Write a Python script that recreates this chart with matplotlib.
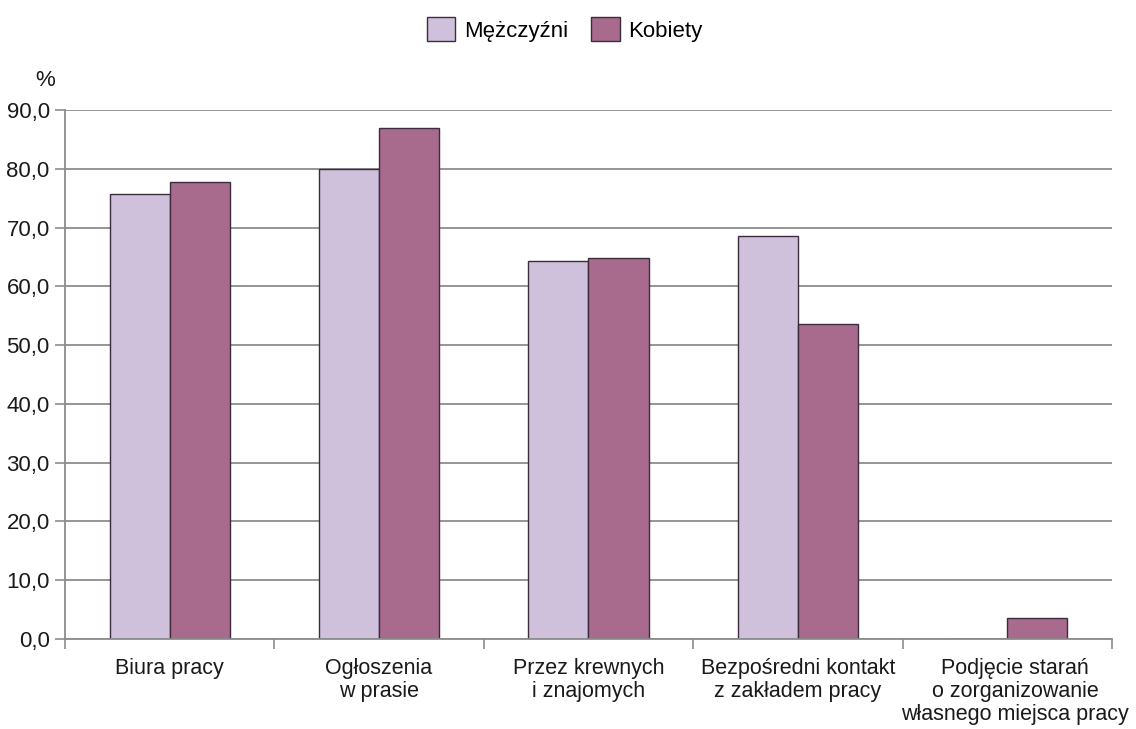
import numpy as np
import matplotlib
matplotlib.use("Agg")
import matplotlib.pyplot as plt
from matplotlib.transforms import ScaledTranslation

plt.rcParams["font.family"] = ["Liberation Sans", "DejaVu Sans"]

# ── Data ────────────────────────────────────────────────────────────────
categories = [
    "Biura pracy",
    "Ogłoszenia\nw prasie",
    "Przez krewnych\ni znajomych",
    "Bezpośredni kontakt\nz zakładem pracy",
    "Podjęcie starań\no zorganizowanie\nwłasnego miejsca pracy",
]
men   = [75.7, 80.0, 64.3, 68.6, 0.0]
women = [77.8, 87.0, 64.8, 53.6, 3.6]
series_names = ["Mężczyźni", "Kobiety"]
y_ticks = [0, 10, 20, 30, 40, 50, 60, 70, 80, 90]

# ── Style ───────────────────────────────────────────────────────────────
c_men   = "#cfc1dc"
c_women = "#a86b8e"
edge    = "#3c2c3c"
grid_c  = "#8c8c8c"
txt_c   = "#1a1a1a"

fig = plt.figure(figsize=(11.36, 7.29), dpi=100)
ax = fig.add_axes([0.0572, 0.1235, 0.9216, 0.7255])

x = np.arange(len(categories))
w = 0.287
ax.bar(x - w / 2, men, w, color=c_men, edgecolor=edge, linewidth=1.0,
       label=series_names[0], zorder=3)
ax.bar(x + w / 2, women, w, color=c_women, edgecolor=edge, linewidth=1.0,
       label=series_names[1], zorder=3)

ax.set_xlim(-0.5, len(categories) - 0.5)
ax.set_ylim(0, 90)
ax.set_yticks(y_ticks)
ax.set_yticklabels([f"{v:.1f}".replace(".", ",") for v in y_ticks])
ax.yaxis.grid(True, color=grid_c, linewidth=1.3, zorder=0)

# category labels centred, tick marks at category boundaries
ax.set_xticks(x)
ax.set_xticklabels(categories, linespacing=1.12)
ax.tick_params(axis="x", length=0, pad=14, labelsize=15.5, colors=txt_c)
ax.set_xticks(np.arange(-0.5, len(categories)), minor=True)
ax.tick_params(axis="x", which="minor", length=7, width=1.2, color=grid_c)
ax.tick_params(axis="y", length=7, width=1.2, color=grid_c, labelsize=16,
               labelcolor=txt_c, pad=4)

# last label sits a little right of its bar group in the original
last = ax.get_xticklabels()[-1]
last.set_transform(last.get_transform() + ScaledTranslation(0.08, 0, fig.dpi_scale_trans))

for side in ("top", "right"):
    ax.spines[side].set_visible(False)
for side in ("left", "bottom"):
    ax.spines[side].set_color(grid_c)
    ax.spines[side].set_linewidth(1.3)
    ax.spines[side].set_zorder(4)

fig.text(0.031, 0.889, "%", fontsize=16, color=txt_c, ha="left", va="center")

fig.legend(loc="upper center", bbox_to_anchor=(0.497, 1.004), ncol=2,
           frameon=False, fontsize=16, handlelength=1.3, handleheight=1.3,
           handletextpad=0.4, columnspacing=1.0)

fig.savefig("out.png", dpi=100)
